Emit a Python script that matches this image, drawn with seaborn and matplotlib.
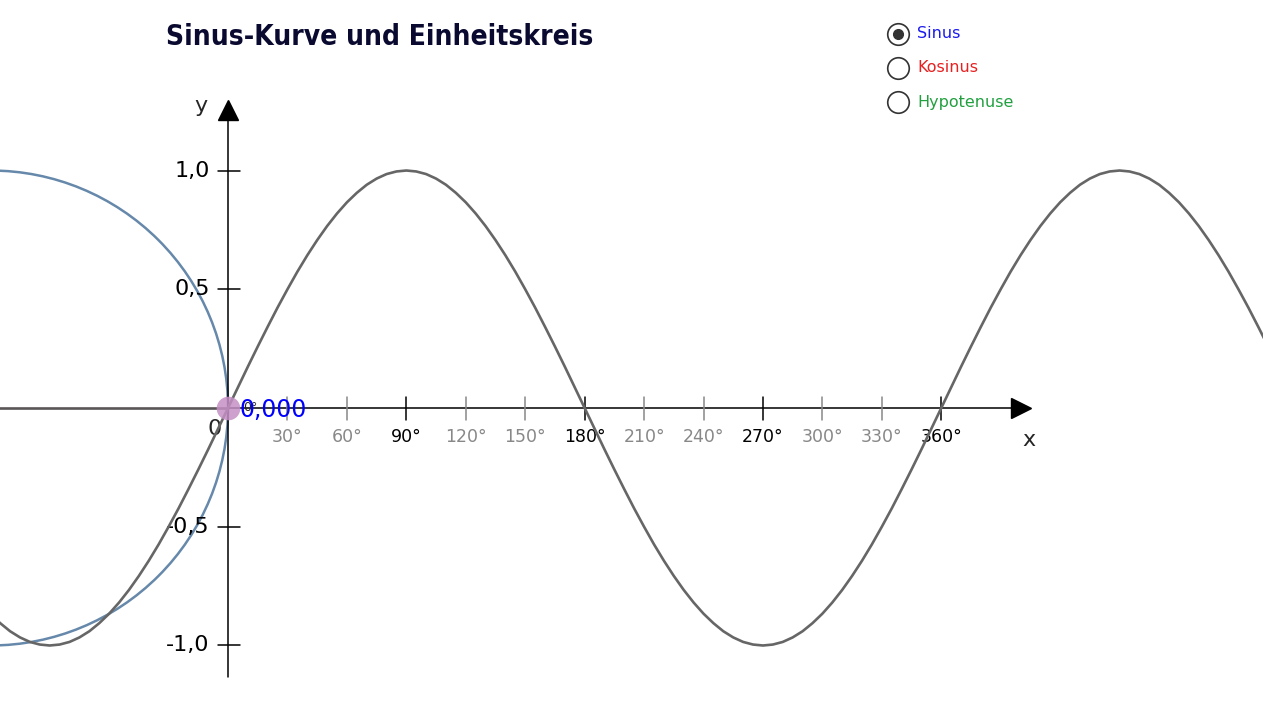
'''
Sinus-Kurve und Einheitskreis: sine curve with the unit circle on the left
'''

import pandas as pd
import seaborn as sns
import matplotlib.pyplot as plt
from matplotlib.patches import Ellipse

angles = list(range(-120, 530, 5))
sine_values = [-0.866, -0.906, -0.940, -0.966, -0.985, -0.996, -1.000,
               -0.996, -0.985, -0.966, -0.940, -0.906, -0.866, -0.819, -0.766, -0.707,
               -0.643, -0.574, -0.500, -0.423, -0.342, -0.259, -0.174, -0.087,
               0.000, 0.087, 0.174, 0.259, 0.342, 0.423, 0.500, 0.574, 0.643, 0.707,
               0.766, 0.819, 0.866, 0.906, 0.940, 0.966, 0.985, 0.996, 1.000,
               0.996, 0.985, 0.966, 0.940, 0.906, 0.866, 0.819, 0.766, 0.707,
               0.643, 0.574, 0.500, 0.423, 0.342, 0.259, 0.174, 0.087,
               0.000, -0.087, -0.174, -0.259, -0.342, -0.423, -0.500, -0.574, -0.643, -0.707,
               -0.766, -0.819, -0.866, -0.906, -0.940, -0.966, -0.985, -0.996, -1.000,
               -0.996, -0.985, -0.966, -0.940, -0.906, -0.866, -0.819, -0.766, -0.707,
               -0.643, -0.574, -0.500, -0.423, -0.342, -0.259, -0.174, -0.087,
               0.000, 0.087, 0.174, 0.259, 0.342, 0.423, 0.500, 0.574, 0.643, 0.707,
               0.766, 0.819, 0.866, 0.906, 0.940, 0.966, 0.985, 0.996, 1.000,
               0.996, 0.985, 0.966, 0.940, 0.906, 0.866, 0.819, 0.766, 0.707,
               0.643, 0.574, 0.500, 0.423, 0.342, 0.259]
x_ticks = [30, 60, 90, 120, 150, 180, 210, 240, 270, 300, 330, 360]
x_major = [90, 180, 270, 360]
y_ticks = [1.0, 0.5, -0.5, -1.0]
y_labels = ['1,0', '0,5', '-0,5', '-1,0']
radio_labels = ['Sinus', 'Kosinus', 'Hypotenuse']
radio_colors = ['#1a1aee', '#e82020', '#22a040']
current_angle = 0
current_value = 0.000

sns.set_style("white")
plt.rcParams['font.family'] = ['DejaVu Sans']

fig = plt.figure(figsize=(12.63, 7.10), dpi=100)
ax = fig.add_axes([0, 0, 1, 1])
ax.set_xlim(-115.1, 522.4)
ax.set_ylim(-1.2716, 1.718)
ax.axis('off')

# degrees per y unit so the circle is round on screen
deg_per_unit = 237.5 * 90 / 178.3

# unit circle
circle = Ellipse((-deg_per_unit, 0), 2 * deg_per_unit, 2, fill=False,
                 edgecolor='#6688aa', linewidth=1.8, zorder=2)
ax.add_patch(circle)

# radius line from circle center to the point
ax.plot([-deg_per_unit, current_angle], [0, 0], color='#5a5556', linewidth=1.9, zorder=3)

# axes
ax.plot([0, 0], [-1.133, 1.24], color='black', linewidth=1.1, zorder=3)
ax.plot([0, 398], [0, 0], color='black', linewidth=1.1, zorder=3)
ax.plot([0], [1.255], marker='^', markersize=14.5, color='black', zorder=4)
ax.plot([400.3], [0], marker='>', markersize=14.5, color='black', zorder=4)

for t in x_ticks:
    col = 'black' if t in x_major else '#888888'
    ax.plot([t, t], [0.046, -0.05], color=col, linewidth=1.1, zorder=3)
    ax.text(t, -0.124, f'{t}°', color=col, fontsize=12.5, ha='center', va='center')

for v, lab in zip(y_ticks, y_labels):
    ax.plot([-5.0, 6.0], [v, v], color='black', linewidth=1.1, zorder=3)
    ax.text(-9.2, v, lab, color='black', fontsize=16, ha='right', va='center')

ax.text(-7.0, -0.088, '0', fontsize=16, ha='center', va='center')
ax.text(404.3, -0.135, 'x', fontsize=16, ha='center', va='center')
ax.text(-13.6, 1.27, 'y', fontsize=16, ha='center', va='center')

# sine curve
df = pd.DataFrame({'angle': angles, 'sin': sine_values})
sns.lineplot(data=df, x='angle', y='sin', ax=ax, color='#666666', linewidth=1.9,
             zorder=5, sort=False)

# current point and value
ax.plot([current_angle], [0], marker='o', markersize=17, color='#c58fc5', alpha=0.85,
        markeredgewidth=0, zorder=6)
ax.text(7.5, 0.002, '0°', fontsize=9, ha='left', va='center', zorder=7)
ax.text(6.0, -0.008, f'{current_value:.3f}'.replace('.', ','), fontsize=17,
        color='#0000ff', ha='left', va='center', zorder=7)

# radio buttons
radio_y = [1.575, 1.432, 1.288]
for i, (lab, col, ry) in enumerate(zip(radio_labels, radio_colors, radio_y)):
    ax.plot([338.2], [ry], marker='o', markersize=15.5, markerfacecolor='white',
            markeredgecolor='#333333', markeredgewidth=1.2, zorder=6)
    if i == 0:
        ax.plot([338.2], [ry], marker='o', markersize=7, color='#333333', zorder=7)
    ax.text(347.8, ry, lab, color=col, fontsize=11.5, ha='left', va='center')

# title, shrunk to the width it has in the reference
title = fig.text(380 / 1263, 1 - 37 / 710, 'Sinus-Kurve und Einheitskreis', fontsize=22,
                 fontweight='heavy', fontstretch='condensed', color='#0a0a30',
                 ha='center', va='center')
renderer = fig.canvas.get_renderer()
width = title.get_window_extent(renderer).width
title.set_fontsize(min(22, 22 * 424 / width))

fig.savefig('out.png', dpi=100, facecolor='white')
